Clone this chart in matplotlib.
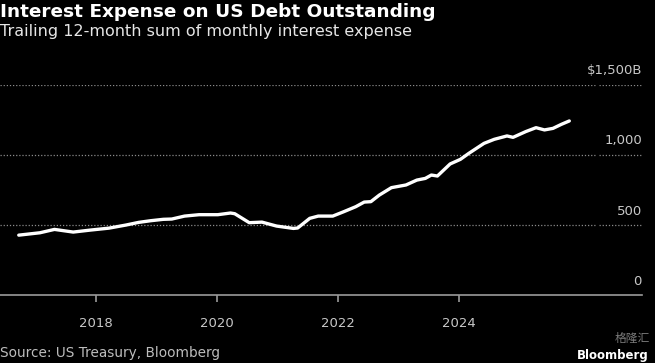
## Import the necessary libraries
import matplotlib.pyplot as plt

# --- Data (decimal year, billions of dollars) ---
years = [2016.73, 2017.08, 2017.32, 2017.63, 2017.91, 2018.22, 2018.50, 2018.71,
         2018.91, 2019.12, 2019.26, 2019.47, 2019.71, 2020.02, 2020.23, 2020.30,
         2020.54, 2020.75, 2020.99, 2021.27, 2021.34, 2021.54, 2021.68, 2021.92,
         2022.10, 2022.30, 2022.44, 2022.55, 2022.69, 2022.89, 2023.13, 2023.31,
         2023.45, 2023.55, 2023.65, 2023.86, 2024.03, 2024.17, 2024.42, 2024.59,
         2024.80, 2024.90, 2025.11, 2025.28, 2025.42, 2025.56, 2025.70, 2025.83]
interest = [428, 445, 469, 450, 464, 478, 500, 519,
            531, 541, 543, 564, 574, 574, 586, 581,
            517, 521, 493, 476, 479, 548, 564, 564,
            595, 631, 664, 667, 714, 767, 786, 821,
            833, 857, 850, 936, 969, 1012, 1083, 1112,
            1136, 1126, 1167, 1195, 1179, 1190, 1219, 1243]

x_ticks = [2018, 2020, 2022, 2024]
y_ticks = [0, 500, 1000, 1500]
y_labels = ['0', '500', '1,000', '$1,500B']

bg = 'black'
grid_color = '#8a8a8a'
label_color = '#c8c8c8'

# --- Create the figure (655 x 363 px) ---
fig = plt.figure(figsize=(6.55, 3.63), dpi=100, facecolor=bg)
ax = fig.add_axes([0.0, 0.187, 0.98, 0.579], facecolor=bg)

# Dotted gridlines with a small break near the right labels
for v in y_ticks[1:]:
    ax.axhline(v, xmin=0, xmax=0.927, color=grid_color, linestyle=(0, (1, 1.5)), linewidth=0.9)
    ax.axhline(v, xmin=0.933, xmax=1.0, color=grid_color, linestyle=(0, (1, 1.5)), linewidth=0.9)

# The series itself
ax.plot(years, interest, color='white', linewidth=2.4, solid_capstyle='round', zorder=3)

ax.set_xlim(2016.42, 2027.03)
ax.set_ylim(0, 1500)

# Baseline and x ticks
for side in ['top', 'right', 'left']:
    ax.spines[side].set_visible(False)
ax.spines['bottom'].set_color('#9a9a9a')
ax.spines['bottom'].set_linewidth(1.2)
ax.set_xticks(x_ticks)
ax.set_xticklabels([str(t) for t in x_ticks])
ax.tick_params(axis='x', colors='#9a9a9a', length=5, width=1.2, direction='out',
               labelcolor=label_color, labelsize=9.5, pad=11)
ax.set_yticks([])

# Y labels sit above their gridlines on the right
for v, lab in zip(y_ticks, y_labels):
    ax.text(1.0, v + 100, lab, transform=ax.get_yaxis_transform(), ha='right', va='center',
            color=label_color, fontsize=9.5)

# --- Titles and source ---
fig.text(0.0, 0.966, 'Interest Expense on US Debt Outstanding', color='white',
         fontsize=13.3, fontweight='bold', ha='left', va='center')
fig.text(0.0, 0.912, 'Trailing 12-month sum of monthly interest expense', color='#e6e6e6',
         fontsize=11.5, ha='left', va='center')
fig.text(0.0, 0.027, 'Source: US Treasury, Bloomberg', color='#bdbdbd',
         fontsize=9.8, ha='left', va='center')

# Watermark in the bottom right corner
fig.text(0.993, 0.068, '格隆汇', color='#9a9a9a', alpha=0.8, fontsize=8.5,
         family=['Noto Sans CJK SC', 'DejaVu Sans'], ha='right', va='center')
fig.text(0.99, 0.02, 'Bloomberg', color='white', fontsize=8.5, fontweight='bold',
         ha='right', va='center')

# --- Save the plot to a file ---
plt.savefig('out.png', dpi=100, facecolor=bg)
